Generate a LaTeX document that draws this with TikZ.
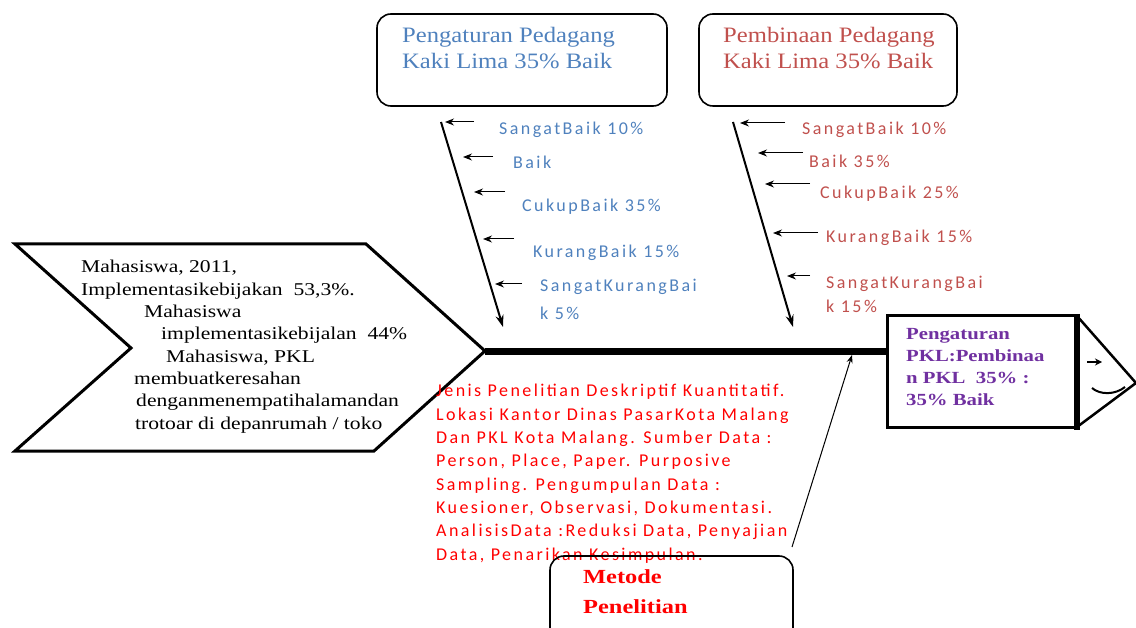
\documentclass[tikz,border=0pt]{standalone}
\usepackage{fontspec}
\usetikzlibrary{arrows.meta}
\newfontfamily\serifw[FakeStretch=1.2]{Liberation Serif}
\newfontfamily\serift[FakeStretch=1.12]{Liberation Serif}
\newfontfamily\serifbw[FakeStretch=1.22]{Liberation Serif}
\newfontfamily\lab[LetterSpace=13.5]{Carlito}
\definecolor{cblue}{HTML}{4F81BD}
\definecolor{cred}{HTML}{C0504D}
\definecolor{cpure}{HTML}{FF0000}
\definecolor{cpurple}{HTML}{7030A0}
\tikzset{
  txt/.style={anchor=base west, inner sep=0pt, align=left},
  lbl/.style={txt, font=\lab\fontsize{18}{28}\selectfont},
  topbox/.style={draw, line width=1.6pt, rounded corners=14pt},
  bone/.style={line width=2pt, -{Stealth[length=12pt,width=8pt]}},
  rib/.style={line width=1pt, -{Stealth[length=9pt,width=7pt]}},
}
\begin{document}
\begin{tikzpicture}[x=1pt,y=-1pt]
\useasboundingbox (0,0) rectangle (1136,628);
% fish tail (chevron)
\draw[line width=3pt, line join=miter] (15,244) -- (366,244) -- (485,351) -- (374,451) -- (15,451) -- (131,348) -- cycle;
% (multi-line nodes: base anchor = last line)
\node[txt, font=\serifw\fontsize{18}{22.3}\selectfont] (tail) at (81,429)
 {Mahasiswa, 2011,\\
  Implementasikebijakan\ \ 53,3\%.\\
  \hspace*{63pt}Mahasiswa\\
  \hspace*{80pt}implementasikebijalan\ \ 44\%\\
  \hspace*{85pt}Mahasiswa, PKL\\
  \hspace*{53pt}membuatkeresahan\\
  \hspace*{55pt}denganmenempatihalamandan\\
  \hspace*{54pt}trotoar di depanrumah / toko};
% spine
\coordinate (tip) at (485,352);
\coordinate (headL) at (887,352);
\draw[line width=7pt] (tip) -- (headL);
% head
\draw[line width=3pt] (887,316) rectangle (1077,428);
\draw[line width=6pt] (1077,314) -- (1077,430);
\draw[line width=2.5pt, line join=miter] (1077,316) -- (1136,383) -- (1077,427);
\draw[line width=1.5pt, -{Stealth[length=7pt,width=7pt]}] (1087,362) -- (1102,362);
\draw[line width=2pt] (1092,388) .. controls (1100,395) and (1115,395) .. (1125,387);
\node[txt, font=\serifbw\bfseries\fontsize{17}{22.3}\selectfont, text=cpurple] (head) at (906,406)
 {Pengaturan\\PKL:Pembinaa\\n PKL\ \ 35\% :\\35\% Baik};
% top boxes
\draw[topbox] (377,14) rectangle (667,106);
\node[txt, font=\serift\fontsize{22}{26.5}\selectfont, text=cblue] (b1) at (402,69)
 {Pengaturan Pedagang\\Kaki Lima 35\% Baik};
\draw[topbox] (699,14) rectangle (957,106);
\node[txt, font=\serift\fontsize{22}{26.5}\selectfont, text=cred] (b2) at (723,69)
 {Pembinaan Pedagang\\Kaki Lima 35\% Baik};
% bone 1
\coordinate (a0) at (441,122); \coordinate (a1) at (503,327);
\draw[bone] (a0) -- (a1);
\foreach \xs/\xe/\y in {474/445/122, 493/463/157, 505/474/192, 514/483/239, 522/495/284}
  \draw[rib] (\xs,\y) -- (\xe,\y);
\node[lbl, text=cblue] (l11) at (499,135) {SangatBaik 10\%};
\node[lbl, text=cblue] (l12) at (513,169) {Baik};
\node[lbl, text=cblue] (l13) at (522,212) {CukupBaik 35\%};
\node[lbl, text=cblue] (l14) at (533,258) {KurangBaik 15\%};
\node[lbl, text=cblue] (l15) at (540,320) {SangatKurangBai\\k 5\%};
% bone 2
\coordinate (c0) at (733,122); \coordinate (c1) at (793,327);
\draw[bone] (c0) -- (c1);
\foreach \xs/\xe/\y in {785/740/123, 803/758/153, 810/765/184, 818/773/233, 810/787/276}
  \draw[rib] (\xs,\y) -- (\xe,\y);
\node[lbl, text=cred] (l21) at (802,135) {SangatBaik 10\%};
\node[lbl, text=cred] (l22) at (809,168) {Baik 35\%};
\node[lbl, text=cred] (l23) at (820,199) {CukupBaik 25\%};
\node[lbl, text=cred] (l24) at (826,243) {KurangBaik 15\%};
\node[lbl, text=cred, font=\lab\fontsize{18}{24}\selectfont] (l25) at (826,313) {SangatKurangBai\\k 15\%};
% method
\node[txt, font=\lab\fontsize{18}{23.3}\selectfont, text=cpure] (meth) at (436,560)
 {Jenis Penelitian Deskriptif Kuantitatif.\\
  Lokasi Kantor Dinas PasarKota Malang\\
  Dan PKL Kota Malang. Sumber Data :\\
  Person, Place, Paper. Purposive\\
  Sampling. Pengumpulan Data :\\
  Kuesioner, Observasi, Dokumentasi.\\
  AnalisisData :Reduksi Data, Penyajian\\
  Data, Penarikan Kesimpulan.};
\draw[line width=1.6pt, rounded corners=14pt] (550,640) -- (550,556) -- (793,556) -- (793,640);
\node[txt, font=\serifbw\bfseries\fontsize{20}{30}\selectfont, text=cpure] (mp) at (583,613)
 {Metode\\Penelitian};
\coordinate (m0) at (792,547); \coordinate (m1) at (852,355);
\draw[line width=1pt, -{Stealth[length=8pt,width=6pt]}] (m0) -- (m1);
\end{tikzpicture}
\end{document}
